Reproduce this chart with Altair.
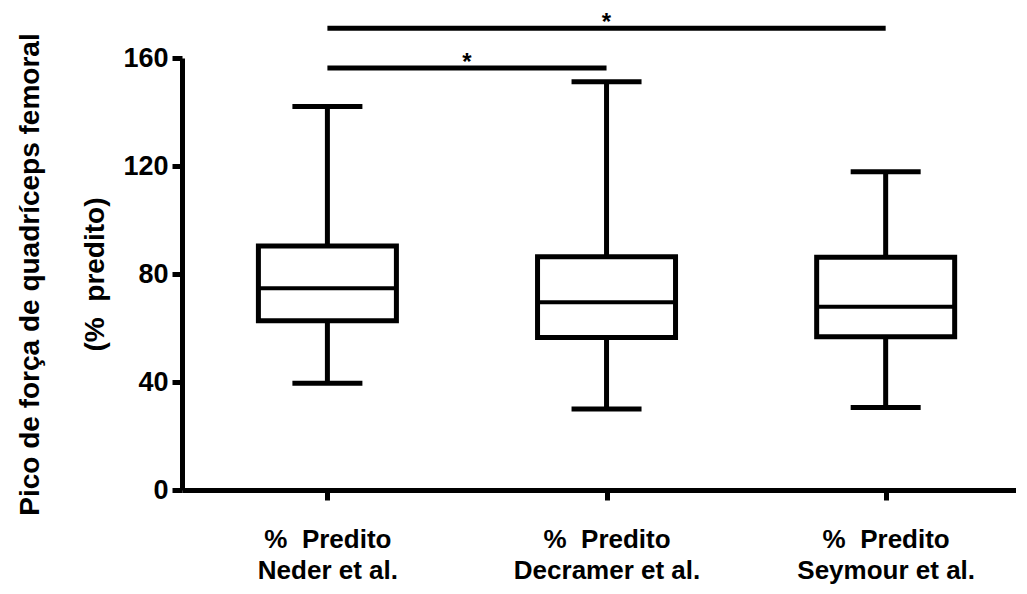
import json
import altair as alt
import pandas as pd

# ---- data ----
categories = ["Neder et al.", "Decramer et al.", "Seymour et al."]
label_prefix = "%\u00a0 Predito"
positions = [1, 2, 3]
mins = [39.5, 30.0, 30.6]
q1s = [62.7, 56.5, 56.8]
medians = [74.7, 69.5, 67.9]
q3s = [90.4, 86.4, 86.2]
maxs = [142.0, 151.2, 117.9]

sig_from = [1, 1]
sig_to = [2, 3]
sig_level = [156.3, 171.0]
sig_label = ["*", "*"]

y_ticks = [0, 40, 80, 120, 160]
y_title = ["Pico de força de quadríceps femoral", "(%\u00a0 predito)"]

FONT = "Liberation Sans"

df = pd.DataFrame({
    "idx": positions, "cat": categories, "min": mins, "q1": q1s,
    "median": medians, "q3": q3s, "max": maxs,
})
sig = pd.DataFrame({"x1": sig_from, "x2": sig_to, "level": sig_level, "label": sig_label})
sig["mid"] = (sig["x1"] + sig["x2"]) / 2

label_expr = " : ".join(
    f"datum.value == {p} ? {json.dumps([label_prefix, c], ensure_ascii=False)}"
    for p, c in zip(positions, categories)
) + " : ''"

x_scale = alt.Scale(domain=[0.497, 3.449], nice=False, zero=False)
y_scale = alt.Scale(domain=[0, 160], nice=False)

x_axis = alt.Axis(
    values=positions, labelExpr=label_expr, title=None, grid=False,
    labelFont=FONT, labelFontSize=26, labelFontWeight="bold", labelColor="black",
    labelLineHeight=31, labelPadding=26, labelOverlap=False, labelFlush=False,
    labelLimit=400,
    tickSize=10, tickWidth=5, tickColor="black",
    domainColor="black", domainWidth=5,
)
y_axis = alt.Axis(
    values=y_ticks, title=y_title, grid=False,
    labelFont=FONT, labelFontSize=27, labelFontWeight="bold", labelColor="black",
    labelPadding=4, labelLimit=200, tickSize=10, tickWidth=5, tickColor="black",
    domainColor="black", domainWidth=5,
    titleFont=FONT, titleFontSize=28, titleFontWeight="bold", titleColor="black",
    titleLineHeight=65, titlePadding=13, titleLimit=800,
)

base = alt.Chart(df)
X = alt.X("idx:Q", scale=x_scale, axis=x_axis)

whisker = base.mark_rule(color="black", strokeWidth=5).encode(
    x=X, y=alt.Y("min:Q", scale=y_scale, axis=y_axis), y2="max:Q"
)
cap_low = base.mark_tick(color="black", orient="horizontal", size=70, thickness=5, opacity=1).encode(
    x=X, y=alt.Y("min:Q", scale=y_scale, axis=y_axis)
)
cap_high = base.mark_tick(color="black", orient="horizontal", size=70, thickness=5, opacity=1).encode(
    x=X, y=alt.Y("max:Q", scale=y_scale, axis=y_axis)
)
box = base.mark_bar(fill="white", stroke="black", strokeWidth=5, size=138).encode(
    x=X, y=alt.Y("q1:Q", scale=y_scale, axis=y_axis), y2="q3:Q"
)
median = base.mark_tick(color="black", orient="horizontal", size=138, thickness=4, opacity=1).encode(
    x=X, y=alt.Y("median:Q", scale=y_scale, axis=y_axis)
)

sbase = alt.Chart(sig)
sig_bar = sbase.mark_rule(color="black", strokeWidth=5).encode(
    x=alt.X("x1:Q", scale=x_scale, axis=x_axis), x2="x2:Q",
    y=alt.Y("level:Q", scale=y_scale, axis=y_axis),
)
sig_text = sbase.mark_text(
    font=FONT, fontSize=24, fontWeight="bold", color="black", baseline="alphabetic", dy=2
).encode(
    x=alt.X("mid:Q", scale=x_scale, axis=x_axis),
    y=alt.Y("level:Q", scale=y_scale, axis=y_axis),
    text="label:N",
)

chart = alt.layer(whisker, cap_low, cap_high, box, median, sig_bar, sig_text).properties(
    width=834, height=432,
    autosize=alt.AutoSizeParams(type="none"),
    padding={"left": 174, "top": 50, "right": 0, "bottom": 95},
    background="white",
).configure_view(stroke=None)

chart.save("out.html", embed_options={"renderer": "svg", "actions": False})
